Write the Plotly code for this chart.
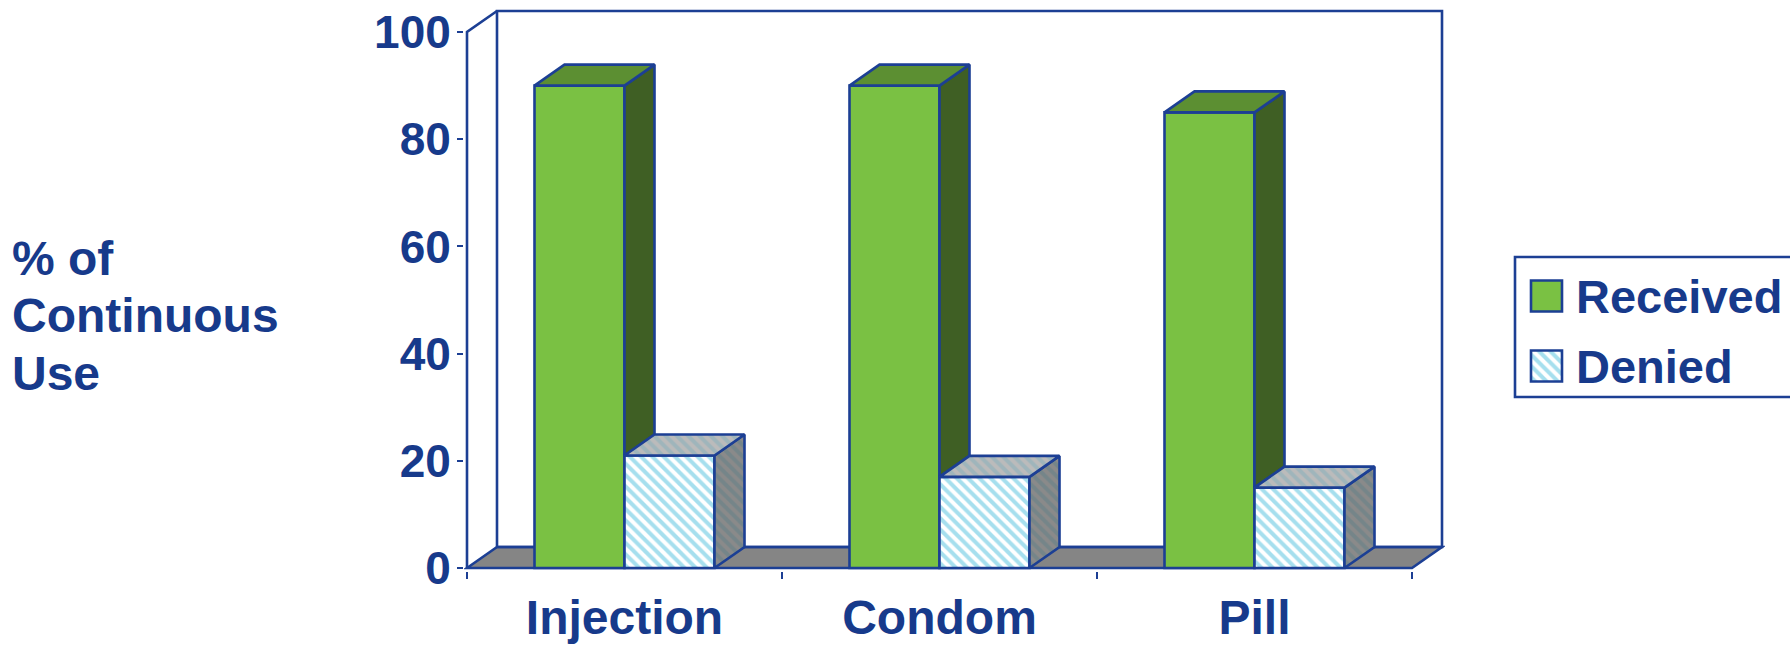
import plotly.graph_objects as go

categories = ["Injection", "Condom", "Pill"]
received = [90, 90, 85]
denied = [21, 17, 15]
y_ticks = [0, 20, 40, 60, 80, 100]
legend_labels = ["Received", "Denied"]
y_title_lines = ["% of", "Continuous", "Use"]

W, H = 1790, 645
INK = "#1C3F94"
TEXT = "#173A8B"
FONT = "Liberation Sans"

# pixel geometry of the chart box
px_left, px_right, px_base, px_top = 467, 1412, 568, 32
depth_x_px, depth_y_px, pad = 30, 21, 3
ux = (px_right - px_left) / len(categories)
uy = (px_base - px_top) / 100
dx, dy = depth_x_px / ux, depth_y_px / uy
bar_w = 90 / ux
n = len(categories)
xpos = [i + 0.5 for i in range(n)]
LW = 2.6

fig = go.Figure()

fig.add_bar(x=xpos, y=received, width=bar_w, offset=-bar_w, name=legend_labels[0],
            marker=dict(color="#7AC143", line=dict(color=INK, width=LW)), showlegend=False)
fig.add_bar(x=xpos, y=denied, width=bar_w, offset=0, name=legend_labels[1],
            marker=dict(color="white", line=dict(color=INK, width=LW),
                        pattern=dict(shape="\\", fgcolor="#A6DFEE", bgcolor="white",
                                     size=8, solidity=0.5, fillmode="replace")),
            showlegend=False)


def faces(kind, series, left_off, floor=None):
    xs, ys = [], []
    for i, v in enumerate(series):
        a = xpos[i] + left_off
        b = a + bar_w
        if kind == "top":
            px_ = [a, b, b + dx, a + dx, a]
            py_ = [v, v, v + dy, v + dy, v]
        else:
            low = floor[i] if floor else 0
            px_ = [b, b + dx, b + dx, b, b]
            py_ = [v, v + dy, low + dy, low, v]
        xs += px_ + [None]
        ys += py_ + [None]
    return xs, ys


def poly(xy, color=None, pattern=None):
    kw = dict(x=xy[0], y=xy[1], mode="lines", fill="toself", hoverinfo="skip",
              showlegend=False, line=dict(color=INK, width=LW, shape="linear"))
    if pattern:
        kw["fillpattern"] = pattern
        kw["fillcolor"] = pattern["bgcolor"]
    else:
        kw["fillcolor"] = color
    fig.add_trace(go.Scatter(**kw))


poly(faces("side", received, -bar_w, denied), color="#3F5F24")
poly(faces("top", received, -bar_w), color="#5C8F32")
poly(faces("side", denied, 0),
     pattern=dict(shape="\\", fgcolor="#5F8088", bgcolor="#8A8A8A", size=8, solidity=0.5))
poly(faces("top", denied, 0),
     pattern=dict(shape="\\", fgcolor="#84B0BB", bgcolor="#BBBBBB", size=8, solidity=0.5))

# walls and floor, behind the bars
line = dict(color=INK, width=LW)
fig.add_shape(type="path", layer="below", xref="x", yref="y", line=line, fillcolor="#858585",
              path=f"M0,0 L{dx},{dy} L{n + dx},{dy} L{n},0 Z")
fig.add_shape(type="rect", layer="below", xref="x", yref="y", line=line, fillcolor="rgba(0,0,0,0)",
              x0=dx, x1=n + dx, y0=dy, y1=100 + dy)
fig.add_shape(type="path", layer="below", xref="x", yref="y", line=line,
              path=f"M0,0 L0,100 L{dx},{100 + dy}")

# legend drawn to size: a small subplot holds the two swatches
sw_left, sw_size, row_gap, row1 = 1531, 31, 70, 296
for lab, fill in zip(legend_labels, [dict(color="#7AC143"),
                                     dict(color="white",
                                          pattern=dict(shape="\\", fgcolor="#A6DFEE", bgcolor="white",
                                                       size=8, solidity=0.5, fillmode="replace"))]):
    fig.add_bar(y=[lab], x=[1], base=0, orientation="h", width=sw_size / row_gap, xaxis="x2", yaxis="y2",
                marker=dict(line=dict(color=INK, width=LW), **fill), showlegend=False, hoverinfo="skip")

tfont = dict(family=FONT, size=46, color=TEXT, weight="bold")
ann = []
for i, txt in enumerate(y_title_lines):
    ann.append(dict(text=txt, xref="paper", yref="paper", x=10 / W, y=1 - (258 + i * 57.5) / H, xanchor="left",
                    yanchor="middle", align="left", showarrow=False, font=dict(tfont, size=48)))
for i, lab in enumerate(legend_labels):
    ann.append(dict(text=lab, xref="paper", yref="paper", x=1574 / W, y=1 - (row1 + i * row_gap) / H,
                    xanchor="left", yanchor="middle", showarrow=False, font=dict(tfont, size=47)))
fig.add_shape(type="rect", xref="paper", yref="paper", x0=1515 / W, x1=1800 / W,
              y0=1 - 397 / H, y1=1 - 257 / H, line=line)

fig.update_layout(
    width=W, height=H, margin=dict(l=0, r=0, t=0, b=0, autoexpand=False), paper_bgcolor="white", plot_bgcolor="white",
    barmode="overlay", showlegend=False, annotations=ann,
    xaxis=dict(domain=[(px_left - pad) / W, (px_right + depth_x_px + pad) / W],
               range=[-pad / ux, n + dx + pad / ux],
               tickmode="array", tickvals=xpos, ticktext=categories, ticks="", showgrid=False, zeroline=False,
               showline=False, tickfont=dict(tfont, size=48), ticklabelstandoff=14,
               minor=dict(tickmode="array", tickvals=list(range(n + 1)), ticks="outside", ticklen=7,
                          tickwidth=2, tickcolor=INK, showgrid=False)),
    yaxis=dict(domain=[1 - (px_base + pad) / H, 1 - (px_base - (100 * uy + depth_y_px) - pad) / H],
               range=[-pad / uy, 100 + dy + pad / uy],
               tickmode="array", tickvals=y_ticks, ticks="outside", ticklen=6, tickwidth=2, tickcolor=INK,
               showgrid=False, zeroline=False, showline=False, tickfont=tfont, ticklabelstandoff=-3),
    xaxis2=dict(domain=[(sw_left - pad) / W, (sw_left + sw_size + pad) / W], anchor="y2",
                range=[-pad / sw_size, 1 + pad / sw_size], visible=False),
    yaxis2=dict(domain=[1 - (row1 + 1.5 * row_gap) / H, 1 - (row1 - 0.5 * row_gap) / H], anchor="x2",
                type="category", categoryorder="array", categoryarray=legend_labels[::-1],
                range=[-0.5, 1.5], visible=False),
)

fig.write_html("out.html", config={"displayModeBar": False},
               post_script="document.body.style.margin='0';document.documentElement.style.overflow='hidden';")
